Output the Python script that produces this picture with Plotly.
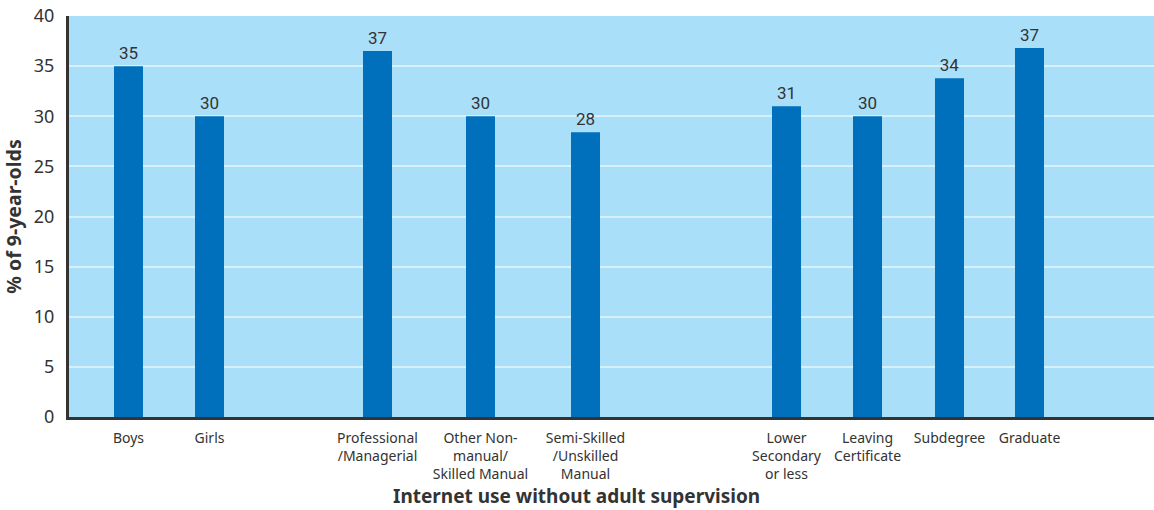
import plotly.graph_objects as go

# Share of 9-year-olds using the internet without adult supervision (%)
categories = [
    "Boys", "Girls",
    "Professional<br>/Managerial", "Other Non-<br>manual/<br>Skilled Manual",
    "Semi-Skilled<br>/Unskilled<br>Manual",
    "Lower<br>Secondary<br>or less", "Leaving<br>Certificate", "Subdegree", "Graduate",
]
values = [35.0, 30.0, 36.5, 30.0, 28.4, 31.0, 30.0, 33.8, 36.8]

# Horizontal placement of each bar (groups separated by wider gaps)
slot_x = [59.5, 140.5, 308.5, 411.5, 516.5, 717.5, 798.5, 880.5, 960.5]

y_ticks = [0, 5, 10, 15, 20, 25, 30, 35, 40]

BG = "#aadff9"
BAR = "#0070bd"
GRID = "#d6f0fc"
AXIS = "#333333"
TEXT = "#333333"

fig = go.Figure(
    go.Bar(
        x=slot_x,
        y=values,
        width=29,
        marker=dict(color=BAR, line=dict(width=0)),
        texttemplate="%{y:.0f}",
        textposition="outside",
        textfont=dict(family="Roboto", size=17, color=TEXT),
        cliponaxis=False,
        hoverinfo="skip",
    )
)

fig.update_layout(
    width=1154,
    height=510,
    margin=dict(l=69, r=0, t=16, b=93),
    paper_bgcolor="white",
    plot_bgcolor=BG,
    showlegend=False,
    font=dict(family="Noto Sans", color=TEXT),
    xaxis=dict(
        range=[0, 1085],
        tickmode="array",
        tickvals=slot_x,
        ticktext=categories,
        tickfont=dict(family="Noto Sans", size=14, color=TEXT),
        ticks="",
        ticklabelstandoff=6,
        showgrid=False,
        zeroline=False,
        showline=True,
        linecolor=AXIS,
        linewidth=3,
    ),
    yaxis=dict(
        range=[0, 40],
        tickmode="array",
        tickvals=y_ticks,
        tickfont=dict(family="Noto Sans", size=18, color=TEXT),
        ticks="",
        ticklabelstandoff=8,
        showgrid=True,
        gridcolor=GRID,
        gridwidth=2,
        zeroline=False,
        showline=True,
        linecolor=AXIS,
        linewidth=3,
        title=dict(
            text="<b>% of 9-year-olds</b>",
            font=dict(family="Noto Sans", size=19.5, color=TEXT),
            standoff=8,
        ),
    ),
    annotations=[
        dict(
            text="<b>Internet use without adult supervision</b>",
            xref="paper", yref="paper",
            x=0.468, y=-0.197,
            xanchor="center", yanchor="middle",
            showarrow=False,
            font=dict(family="Noto Sans", size=19, color=TEXT),
        )
    ],
)

fig.write_html("out.html")
